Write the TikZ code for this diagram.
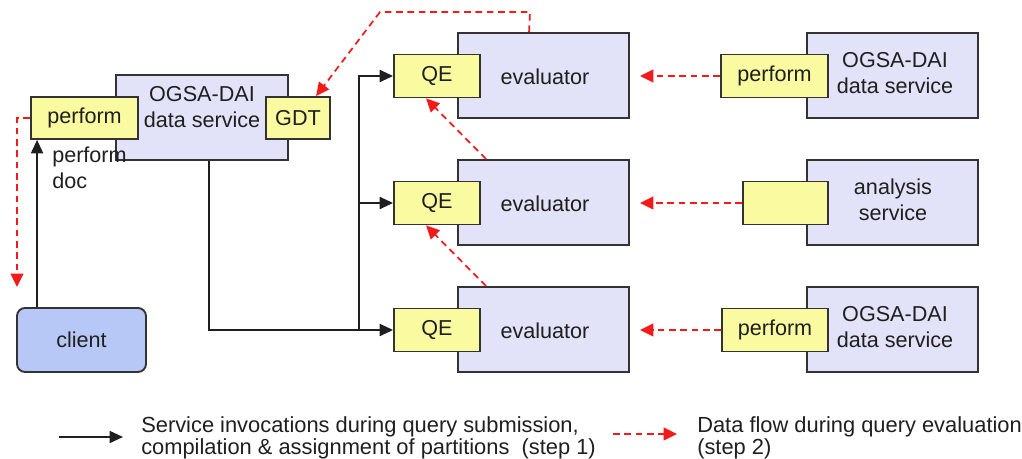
\documentclass[tikz,border=0pt]{standalone}
\usepackage{fontspec}
\setmainfont{Liberation Sans}
\usetikzlibrary{arrows.meta,calc}
\definecolor{svcfill}{HTML}{E2E2F8}
\definecolor{portfill}{HTML}{FAFAA0}
\definecolor{clientfill}{HTML}{B8C8F6}
\definecolor{boxline}{HTML}{333333}
\definecolor{dataflow}{HTML}{F41A1A}
\begin{document}
\begin{tikzpicture}[x=0.75pt,y=-0.75pt,
  txt/.style={font=\fontsize{16.2}{19.5}\selectfont, text=black!88, inner sep=0pt, align=center},
  legendtxt/.style={font=\fontsize{16.4}{14.4}\selectfont, text=black!88, inner sep=0pt, align=left, anchor=west},
  dims/.style 2 args={minimum width=#1*0.75pt, minimum height=#2*0.75pt, inner sep=0pt},
  svc/.style={draw=boxline, fill=svcfill, line width=1.4pt},
  port/.style={draw=boxline, fill=portfill, line width=1.4pt, txt},
  clientbox/.style={draw=boxline, fill=clientfill, line width=1.4pt, rounded corners=6pt, txt},
  call/.style={draw=black!88, line width=1.3pt, -{Triangle[length=10pt,width=9pt]}},
  link/.style={draw=black!88, line width=1.3pt},
  flow/.style={draw=dataflow, line width=1.3pt, dash pattern=on 5pt off 3.5pt, -{Triangle[length=10pt,width=9.5pt]}}
]
\useasboundingbox (0,0) rectangle (1022,459);

% coordinating OGSA-DAI data service with its two ports
\node[svc, dims={172}{85}] (ds) at (202,117.5) {};
\node[txt] (dslabel) at (202,107) {OGSA-DAI\\data service};
\node[port, dims={107}{42}] (perfL) at (84.5,118) {perform};
\node[port, dims={64}{42}] (gdt) at (298,118) {GDT};

% client
\node[clientbox, dims={129}{64}] (client) at (81.5,340) {client};
\node[txt, align=left, anchor=west] (pdoc) at (52,168) {perform\\doc};

% evaluators with their query-engine ports
\foreach \i/\y in {1/75.5,2/202.5,3/329.5}{
  \node[svc, dims={171}{85}] (ev\i) at (543.5,\y) {};
  \node[txt] (evlabel\i) at (545,\y+1) {evaluator};
  \node[port, dims={86}{43}] (qe\i) at (437,\y+0.5) {QE};
}

% remote services
\node[svc, dims={171}{85}] (rs1) at (892.5,75.5) {};
\node[txt] (rslabel1) at (895,73) {OGSA-DAI\\data service};
\node[port, dims={107}{43}] (perfR1) at (774.5,76) {perform};

\node[svc, dims={171}{85}] (rs2) at (892.5,202.5) {};
\node[txt] (rslabel2) at (893,200) {analysis\\service};
\node[port, dims={85}{43}] (anaport) at (785.5,203) {};

\node[svc, dims={171}{85}] (rs3) at (892.5,329.5) {};
\node[txt] (rslabel3) at (895,327) {OGSA-DAI\\data service};
\node[port, dims={106}{43}] (perfR3) at (775,330) {perform};

% step 1: invocations
\draw[call] ($(client.north west)+(21,0)$) -- ($(perfL.south west)+(7,0)$);
\coordinate (split) at (359,0 |- qe3.west);
\draw[link] ($(ds.south west)+(94,0)$) |- (split);
\draw[call] (split) -- (qe3.west);
\draw[call] (split) |- (qe1.west);
\draw[call] (split |- qe2.west) -- (qe2.west);

% step 2: data flow
\coordinate (downend) at (17,287);
\draw[flow] (perfL.west) -| (downend);
\draw[flow] (perfR1.west) -- ($(ev1.east)+(10,0.5)$);
\draw[flow] (anaport.west) -- ($(ev2.east)+(10,0.5)$);
\draw[flow] (perfR3.west) -- ($(ev3.east)+(10,0.5)$);
\draw[flow] ($(ev2.north west)+(29,0)$) -- ($(qe1.south west)+(33,0)$);
\draw[flow] ($(ev3.north west)+(29,0)$) -- ($(qe2.south west)+(33,0)$);
\coordinate (bendA) at (530,12);
\coordinate (bendB) at (380,12);
\draw[flow] ($(ev1.north west)+(72,0)$) -- (bendA) -- (bendB) -- ($(gdt.north west)+(51,0)$);

% legend
\coordinate (lgA) at (59,437);
\coordinate (lgB) at (123,437);
\draw[call] (lgA) -- (lgB);
\node[legendtxt] (lgtext1) at (141,438) {Service invocations during query submission,\\compilation \& assignment of partitions\ \ (step 1)};
\coordinate (lgC) at (613,434);
\coordinate (lgD) at (677,434);
\draw[flow] (lgC) -- (lgD);
\node[legendtxt] (lgtext2) at (697,438) {Data flow during query evaluation\\(step 2)};
\end{tikzpicture}
\end{document}
